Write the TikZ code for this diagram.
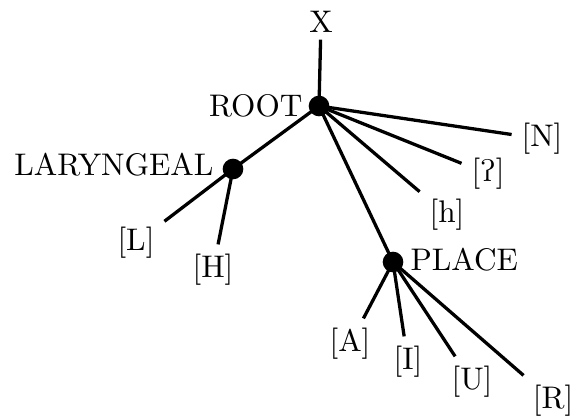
\documentclass[tikz,border=0pt]{standalone}
\usepackage{tipa}
\usepackage{tikz}
\usetikzlibrary{positioning}

\begin{document}
\begin{tikzpicture}[x=0.32pt, y=-0.32pt,
    dot/.style={circle, fill=black, inner sep=0pt, minimum size=6.6pt},
    feat/.style={inner sep=3pt},
    tier/.style={inner sep=0pt},
    branch/.style={line width=1.05pt}]
    \useasboundingbox (0,0) rectangle (570,419);

    % Class nodes
    \node[dot] (root) at (319,106) {};
    \node[dot] (lar) at (233,169) {};
    \node[dot] (place) at (393,262) {};

    % Tier names
    \node[tier, anchor=east] (roottxt) at (303,106) {ROOT};
    \node[tier, anchor=east] (lartxt) at (214,165) {LARYNGEAL};
    \node[tier, anchor=west] (placetxt) at (410,260) {PLACE};

    % Skeletal slot
    \node[feat, inner sep=2pt] (x) at (321,22) {X};
    \draw[branch] (x) -- (root.center);

    % Root and its dependents
    \draw[branch] (root.center) -- (lar.center);
    \draw[branch] (root.center) -- (place.center);
    \foreach \nm/\px/\py/\txt in {n/542/139/{[N]}, q/488/174/{[\textglotstop]}, h/447/215/{[h]}} {
        \node[feat] (\nm) at (\px,\py) {\txt};
        \draw[branch] (root.center) -- (\nm);
    }

    % Laryngeal features
    \foreach \nm/\px/\py/\txt in {l/136/243/{[L]}, hi/213/270/{[H]}} {
        \node[feat] (\nm) at (\px,\py) {\txt};
        \draw[branch] (lar.center) -- (\nm);
    }

    % Place features
    \foreach \nm/\px/\py/\txt in {a/350/344/{[A]}, i/408/362/{[I]}, u/472/382/{[U]}, r/553/401/{[R]}} {
        \node[feat] (\nm) at (\px,\py) {\txt};
        \draw[branch] (place.center) -- (\nm);
    }
\end{tikzpicture}
\end{document}
